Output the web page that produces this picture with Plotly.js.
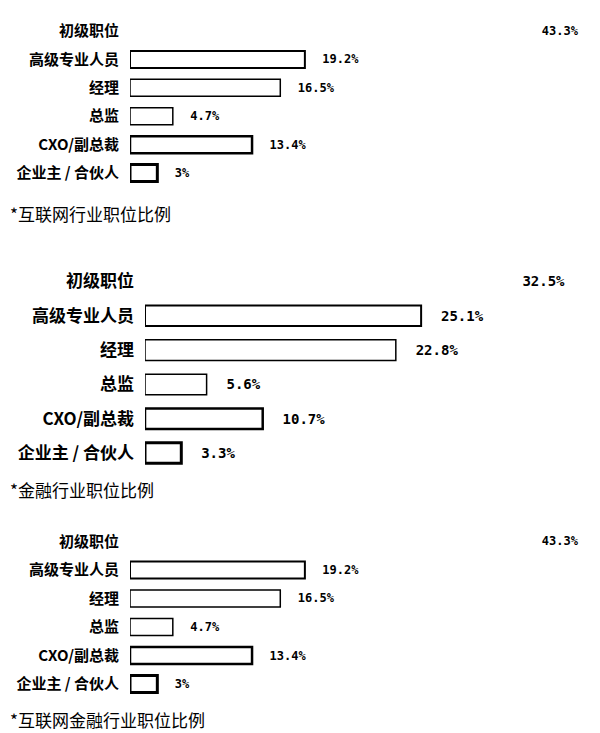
<!DOCTYPE html>
<html>
<head>
<meta charset="utf-8">
<script src="https://cdn.plot.ly/plotly-3.0.1.min.js"></script>
<style>html,body{margin:0;padding:0;background:#fff;}</style>
</head>
<body>
<div id="chart" style="width:600px;height:733px;"></div>
<script>
// Data
const categories = ['初级职位', '高级专业人员', '经理', '总监', 'CXO/副总裁', '企业主 / 合伙人'];
const internetValues = [43.3, 19.2, 16.5, 4.7, 13.4, 3];
const financeValues = [32.5, 25.1, 22.8, 5.6, 10.7, 3.3];
const internetFinanceValues = [43.3, 19.2, 16.5, 4.7, 13.4, 3];
const captions = ['*互联网行业职位比例', '*金融行业职位比例', '*互联网金融行业职位比例'];

const lineWidths = [0, 2, 1.5, 1.5, 2.5, 3];

function barTrace(vals, xa, ya, fontSize) {
  return {
    type: 'bar', orientation: 'h',
    y: categories, x: vals,
    xaxis: xa, yaxis: ya,
    marker: { color: '#ffffff', line: { color: '#000000', width: lineWidths } },
    text: vals.map(v => '\u00a0\u00a0' + v + '%'),
    texttemplate: '%{text}',
    textposition: 'outside',
    cliponaxis: false,
    textfont: { family: 'DejaVu Sans Mono', size: fontSize, color: '#000', weight: 'bold' },
    hoverinfo: 'skip'
  };
}

const data = [
  barTrace(internetValues, 'x', 'y', 12),
  barTrace(financeValues, 'x2', 'y2', 14),
  barTrace(internetFinanceValues, 'x3', 'y3', 12)
];

function yAx(domain, anchor, size) {
  return {
    domain: domain, anchor: anchor, type: 'category', autorange: 'reversed',
    showgrid: false, zeroline: false, showline: false, ticks: '',
    ticklabelstandoff: 10,
    tickfont: { family: 'Noto Sans CJK SC', size: size, color: '#000', weight: 'bold' },
    fixedrange: true
  };
}
function xAx(domain, range, anchor) {
  return { domain: domain, range: range, anchor: anchor, visible: false, fixedrange: true };
}

const layout = {
  width: 600, height: 733,
  margin: { l: 0, r: 0, t: 0, b: 0 },
  paper_bgcolor: '#fff', plot_bgcolor: '#fff',
  showlegend: false,
  bargap: 0.4,
  xaxis: xAx([130/600, 1], [0, 51.6], 'y'),
  yaxis: yAx([0.7445, 0.9771], 'x', 15),
  xaxis2: xAx([145/600, 1], [0, 41.36], 'y2'),
  yaxis2: yAx([0.3585, 0.6394], 'x2', 17),
  xaxis3: xAx([130/600, 1], [0, 51.6], 'y3'),
  yaxis3: yAx([0.0474, 0.2807], 'x3', 15),
  annotations: [
    { text: captions[0], x: 8/600, y: 1 - 213/733 },
    { text: captions[1], x: 8/600, y: 1 - 489/733 },
    { text: captions[2], x: 8/600, y: 1 - 719/733 }
  ].map(a => Object.assign(a, {
    xref: 'paper', yref: 'paper', xanchor: 'left', yanchor: 'middle', showarrow: false,
    font: { family: 'Noto Sans CJK SC', size: 17, color: '#000' }
  }))
};

Plotly.newPlot('chart', data, layout, { displayModeBar: false, staticPlot: true });
</script>
</body>
</html>
